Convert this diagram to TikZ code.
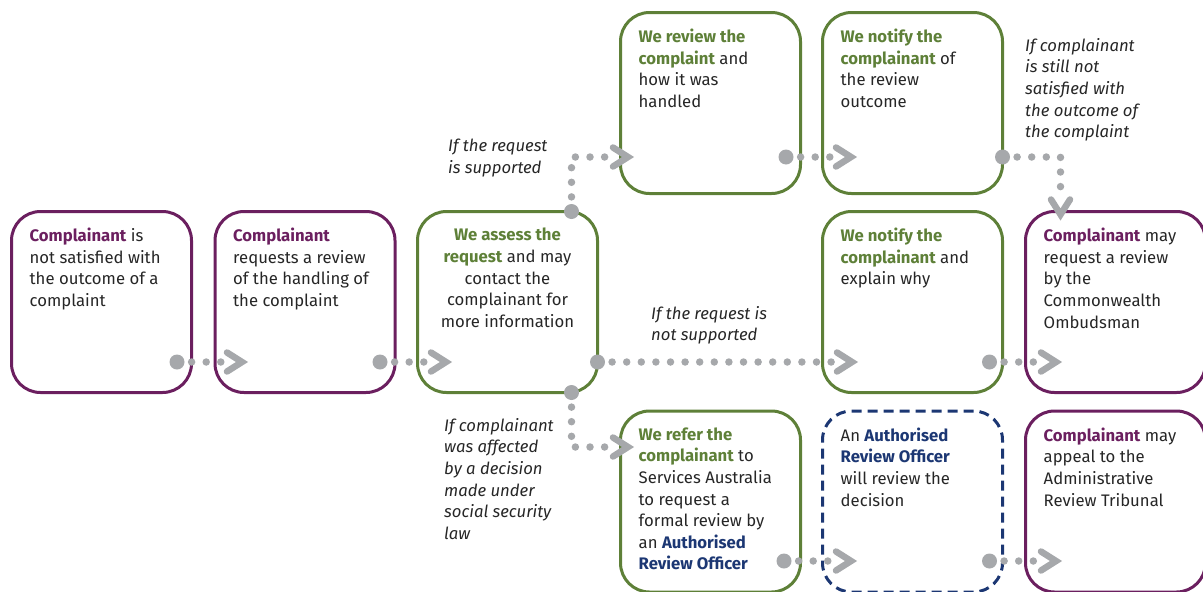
\documentclass[tikz,border=0pt]{standalone}
\usepackage{fontspec}
\setmainfont{Fira Sans}
\usetikzlibrary{calc}
\definecolor{pur}{RGB}{107,31,95}
\definecolor{grn}{RGB}{94,128,56}
\definecolor{nvy}{RGB}{28,55,115}
\definecolor{dotc}{RGB}{166,168,171}
\definecolor{txtc}{RGB}{38,38,38}
\newcommand\emP[1]{{\bfseries\color{pur}#1}}
\newcommand\emG[1]{{\bfseries\color{grn}#1}}
\newcommand\emN[1]{{\bfseries\color{nvy}#1}}
\tikzset{
  box/.style={draw, rounded corners=29pt, line width=3pt, minimum width=180pt, minimum height=181pt, inner sep=0pt, outer sep=0pt},
  pbox/.style={box, draw=pur},
  gbox/.style={box, draw=grn},
  nbox/.style={box, draw=nvy, dash pattern=on 10pt off 6pt},
  txt/.style={anchor=north west, align=left, inner sep=0pt, text=txtc, font=\fontsize{16.7}{21.6}\selectfont},
  lab/.style={txt, font=\fontsize{16.7}{21.6}\selectfont\itshape},
  dots/.style={draw=dotc, line width=7.5pt, line cap=round, dash pattern=on 0pt off 14.6pt},
  chev/.style={draw=dotc, line width=6.5pt, line cap=round, line join=miter, miter limit=10},
}
\newcommand\hconn[2]{%
  \draw[dots] (#1) -- ($(#2)+(-25,0)$);
  \fill[dotc] (#1) circle (7.5);
  \draw[chev] ($(#2)+(-21,-9.5)$) -- ($(#2)+(-6,0)$) -- ($(#2)+(-21,9.5)$);
}
\begin{document}
\begin{tikzpicture}[x=1pt,y=-1pt]
\useasboundingbox (0,0) rectangle (1203,592);
% boxes
\node[pbox] (b1) at (101.5,302) {};
\node[pbox] (b2) at (305,302) {};
\node[gbox] (b3) at (507.5,302) {};
\node[gbox] (b4) at (710.5,103) {};
\node[gbox] (b5) at (912.5,103) {};
\node[gbox] (b6) at (912.5,302) {};
\node[pbox] (b7) at (1115.5,302) {};
\node[gbox] (b8) at (710.5,501.5) {};
\node[nbox] (b9) at (912.5,501.5) {};
\node[pbox] (b10) at (1115.5,501.5) {};
% texts
\node[txt] (t1) at ($(b1.north west)+(18,16.5)$) {\emP{Complainant} is\\not satisfied with\\the outcome of a\\complaint};
\node[txt] (t2) at ($(b2.north west)+(18,16.5)$) {\emP{Complainant}\\requests a review\\of the handling of\\the complaint};
\node[txt, anchor=north, align=center] (t3) at ($(b3.north)+(0,16.5)$) {\emG{We assess the}\\\emG{request} and may\\contact the\\complainant for\\more information};
\node[txt] (t4) at ($(b4.north west)+(18,16.5)$) {\emG{We review the}\\\emG{complaint} and\\how it was\\handled};
\node[txt] (t5) at ($(b5.north west)+(18,16.5)$) {\emG{We notify the}\\\emG{complainant} of\\the review\\outcome};
\node[txt] (t6) at ($(b6.north west)+(18,16.5)$) {\emG{We notify the}\\\emG{complainant} and\\explain why};
\node[txt] (t7) at ($(b7.north west)+(18,16.5)$) {\emP{Complainant} may\\request a review\\by the\\Commonwealth\\Ombudsman};
\node[txt] (t8) at ($(b8.north west)+(18,16.5)$) {\emG{We refer the}\\\emG{complainant} to\\Services Australia\\to request a\\formal review by\\an \emN{Authorised}\\\emN{Review Officer}};
\node[txt] (t9) at ($(b9.north west)+(18,16.5)$) {An \emN{Authorised}\\\emN{Review Officer}\\will review the\\decision};
\node[txt] (t10) at ($(b10.north west)+(18,16.5)$) {\emP{Complainant} may\\appeal to the\\Administrative\\Review Tribunal};
% labels
\node[lab] (l1) at (448,139) {If the request\\is supported};
\node[lab] (l2) at (651,306) {If the request is\\not supported};
\node[lab] (l3) at (444,418) {If complainant\\was affected\\by a decision\\made under\\social security\\law};
\node[lab] (l4) at (1025,38) {If complainant\\is still not\\satisfied with\\the outcome of\\the complaint};
% connector points
\coordinate (c1s) at ($(b1.south east)+(-14.5,-30.5)$);
\coordinate (c1t) at ($(b2.south west)+(33,-30.5)$);
\coordinate (c2s) at ($(b2.south east)+(-15,-30.5)$);
\coordinate (c2t) at ($(b3.south west)+(34.5,-30.5)$);
\coordinate (c3s) at ($(b3.south east)+(0,-30.5)$);
\coordinate (c3t) at ($(b6.south west)+(35.5,-30.5)$);
\coordinate (c4s) at ($(b3.north east)+(-26,0)$);
\coordinate (c4t) at ($(b4.south west)+(13.5,-36.5)$);
\coordinate (c5s) at ($(b3.south east)+(-26,0)$);
\coordinate (c5t) at ($(b8.north west)+(13.5,36)$);
\coordinate (c6s) at ($(b4.south east)+(-14.5,-36.5)$);
\coordinate (c6t) at ($(b5.south west)+(34.5,-36.5)$);
\coordinate (c7s) at ($(b5.south east)+(0,-36.5)$);
\coordinate (c7t) at ($(b7.north west)+(35,9)$);
\coordinate (c8s) at ($(b6.south east)+(-13,-30.5)$);
\coordinate (c8t) at ($(b7.south west)+(36.5,-30.5)$);
\coordinate (c9s) at ($(b8.south east)+(-16.5,-31)$);
\coordinate (c9t) at ($(b9.south west)+(34.5,-31)$);
\coordinate (c10s) at ($(b9.south east)+(-13,-31)$);
\coordinate (c10t) at ($(b10.south west)+(36.5,-31)$);
% connectors
\hconn{c1s}{c1t}
\hconn{c2s}{c2t}
\hconn{c3s}{c3t}
\hconn{c6s}{c6t}
\hconn{c8s}{c8t}
\hconn{c9s}{c9t}
\hconn{c10s}{c10t}
% bent connectors
\draw[dots] (c4s) |- ($(c4t)+(-25,0)$);
\fill[dotc] (c4s) circle (7.5);
\draw[chev] ($(c4t)+(-21,-9.5)$) -- ($(c4t)+(-6,0)$) -- ($(c4t)+(-21,9.5)$);
\draw[dots] (c5s) |- ($(c5t)+(-25,0)$);
\fill[dotc] (c5s) circle (7.5);
\draw[chev] ($(c5t)+(-21,-9.5)$) -- ($(c5t)+(-6,0)$) -- ($(c5t)+(-21,9.5)$);
\draw[dots] (c7s) -| ($(c7t)+(0,-25)$);
\fill[dotc] (c7s) circle (7.5);
\draw[chev] ($(c7t)+(-9.5,-21)$) -- ($(c7t)+(0,-6)$) -- ($(c7t)+(9.5,-21)$);
\end{tikzpicture}
\end{document}
